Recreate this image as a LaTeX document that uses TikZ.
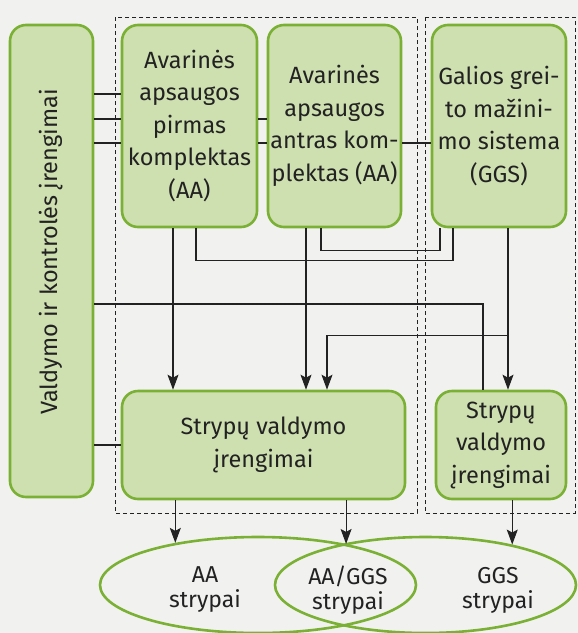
\documentclass[tikz,border=0pt]{standalone}
\usepackage{fontspec}
\setmainfont{Fira Sans}
\usetikzlibrary{arrows.meta,shapes.geometric}
\definecolor{boxfill}{RGB}{206,223,176}
\definecolor{boxline}{RGB}{122,176,52}
\definecolor{ink}{RGB}{34,34,34}
\definecolor{paper}{RGB}{241,242,239}
\newcommand{\toph}{202pt}

\begin{document}
\begin{tikzpicture}[x=1pt,y=-1pt,
    blk/.style={draw=boxline, fill=boxfill, line width=2.6pt, rounded corners=16pt, align=center, inner sep=0pt, text=ink},
    ell/.style={draw=boxline, line width=2.6pt, ellipse, inner sep=0pt},
    grp/.style={draw=ink, dash pattern=on 4pt off 3pt, line width=0.9pt},
    wire/.style={draw=ink, line width=1.1pt},
    arr/.style={wire, -{Stealth[length=15pt,width=11pt,inset=3pt]}},
    lbl/.style={text=ink, align=center},
    font=\fontsize{23.5}{32.5}\selectfont]
    \useasboundingbox[fill=paper] (0,0) rectangle (578,633);

    % Dashed groups
    \draw[grp] (115,17) rectangle (417,513);
    \draw[grp] (425,17) rectangle (575,513);

    % Left column
    \node[blk, minimum width=83pt, minimum height=472pt] (ctrl) at (51.5,261) {};
    \node[lbl, rotate=90] (ctrl-txt) at ([yshift=9pt]ctrl.center) {Valdymo ir kontrolės įrengimai};

    % First row
    \node[blk, minimum width=135pt, minimum height=\toph] (aa1) at (189.5,126) {Avarinės\\apsaugos\\pirmas\\komplektas\\(AA)};
    \node[blk, minimum width=133pt, minimum height=\toph] (aa2) at (334.5,126) {Avarinės\\apsaugos\\antras kom-\\plektas (AA)};
    \node[blk, minimum width=134pt, minimum height=\toph] (ggs) at (499,126) {Galios grei-\\to mažini-\\mo sistema\\(GGS)};

    % Second row
    \node[blk, minimum width=283pt, minimum height=108pt] (sv) at (263.5,445) {Strypų valdymo\\įrengimai};
    \node[blk, minimum width=130pt, minimum height=108pt] (svg) at (501,445) {Strypų\\valdymo\\įrengimai};

    % Rods
    \node[ell, minimum width=316pt, minimum height=96pt] (ellAA) at (258,585) {};
    \node[ell, minimum width=301pt, minimum height=96pt] (ellGGS) at (425.5,585) {};
    \node[lbl, font=\fontsize{23}{25}\selectfont] (txtAA) at (205,590) {AA\\strypai};
    \node[lbl, font=\fontsize{23}{25}\selectfont] (txtBoth) at (348,590) {AA/GGS\\strypai};
    \node[lbl, font=\fontsize{23}{25}\selectfont] (txtGGS) at (498,590) {GGS\\strypai};

    % Control lines
    \draw[wire] ([yshift=32pt]aa1.west -| ctrl.east) -- ([yshift=32pt]aa1.west);
    \draw[wire] ([yshift=7pt]aa1.west -| ctrl.east) -- ([yshift=7pt]aa1.west);
    \draw[wire] ([yshift=7pt]aa1.east) -- ([yshift=7pt]aa2.west);
    \draw[wire] ([yshift=-17pt]aa1.west -| ctrl.east) -- ([yshift=-17pt]aa1.west);
    \draw[wire] ([yshift=-17pt]aa1.east) -- ([yshift=-17pt]aa2.west);
    \draw[wire] ([yshift=-17pt]aa2.east) -- ([yshift=-17pt]ggs.west);
    \draw[wire] ([yshift=-43pt]ctrl.east) -| ([xshift=-18pt]svg.north);
    \draw[wire] (sv.west -| ctrl.east) -- (sv.west);

    % Protection to GGS
    \draw[wire] ([xshift=6.5pt]aa1.south) -- ++(0,32) -| ([xshift=-46pt]ggs.south);
    \draw[wire] ([xshift=-13.5pt]aa2.south) -- ++(0,22) -| ([xshift=-59pt]ggs.south);

    % Down to rod control
    \draw[arr] ([xshift=-16.5pt]aa1.south) -- ([xshift=-16.5pt]aa1.south |- sv.north);
    \draw[arr] ([xshift=-28.5pt]aa2.south) -- ([xshift=-28.5pt]aa2.south |- sv.north);
    \draw[arr] ([xshift=9pt]ggs.south) -- ([xshift=9pt]ggs.south |- svg.north);
    \draw[arr] ([xshift=9pt]ggs.south) ++(0,107) -| ([xshift=63.5pt]sv.north);

    % Down to rods
    \draw[arr] (sv.south -| ellAA.153.7) -- (ellAA.153.7);
    \draw[arr] (sv.south -| ellAA.25.8) -- (ellAA.25.8);
    \draw[arr] (svg.south -| ellGGS.25.5) -- (ellGGS.25.5);

\end{tikzpicture}
\end{document}
